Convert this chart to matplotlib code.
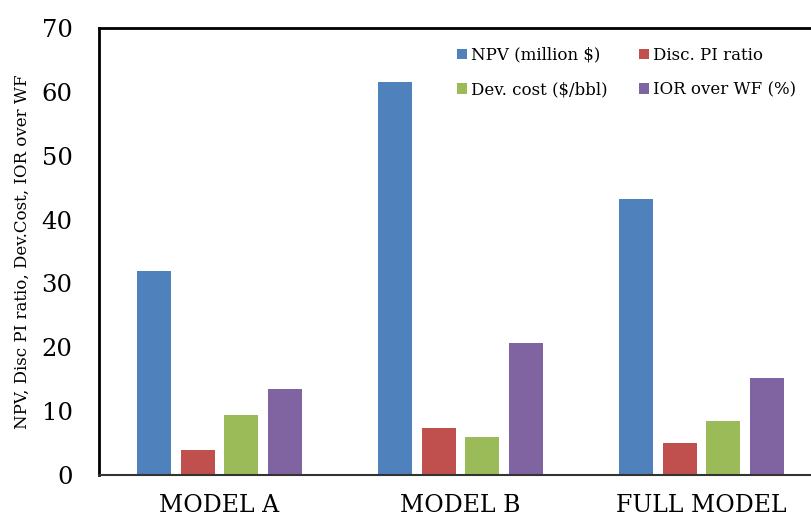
import matplotlib.pyplot as plt
import numpy as np

# Data
models = ['MODEL A', 'MODEL B', 'FULL MODEL']
series = ['NPV (million $)', 'Disc. PI ratio', 'Dev. cost ($/bbl)', 'IOR over WF (%)']
npv = [32.0, 61.5, 43.2]
disc_pi = [3.9, 7.4, 5.0]
dev_cost = [9.4, 6.0, 8.5]
ior = [13.5, 20.7, 15.2]

colors = ['#4F81BD', '#C0504D', '#9BBB59', '#8064A2']

plt.rcParams['font.family'] = 'DejaVu Serif'

fig = plt.figure(figsize=(8.12, 5.19), dpi=100)
# axes run slightly past the right edge of the figure
ax = fig.add_axes([99/812, 1 - 475/519, 723/812, 447/519])

x = np.arange(len(models))
w = 0.14
step = 0.181
offsets = (np.arange(4) - 1.5) * step
bars = []
for vals, off, c, lab in zip([npv, disc_pi, dev_cost, ior], offsets, colors, series):
    bars.append(ax.bar(x + off, vals, width=w, color=c, label=lab, zorder=2))

ax.set_xlim(-0.5, 2.5)
ax.set_ylim(0, 70)
ax.set_yticks(range(0, 71, 10))
ax.set_xticks(x)
ax.set_xticklabels(models, fontsize=17)
ax.tick_params(axis='y', labelsize=17.5, length=0, pad=19)
ax.tick_params(axis='x', length=0, pad=14)

ax.spines['left'].set_linewidth(2)
ax.spines['top'].set_linewidth(2)
ax.spines['bottom'].set_linewidth(1.5)
ax.spines['bottom'].set_color('#333333')
ax.spines['right'].set_visible(False)

ax.set_ylabel('NPV, Disc PI ratio, Dev.Cost, IOR over WF', fontsize=12, labelpad=8)

# row-wise legend: NPV, Disc. PI on top, Dev. cost, IOR below
order = [0, 2, 1, 3]
ax.legend([bars[i] for i in order], [series[i] for i in order],
          ncol=2, frameon=False, fontsize=12, loc='upper left',
          bbox_to_anchor=(450/812, 1 - 40/519), bbox_transform=fig.transFigure,
          handlelength=0.6, handleheight=0.6, handletextpad=0.25,
          columnspacing=1.9, labelspacing=1.05, borderaxespad=0)

fig.savefig('out.png', dpi=100)
